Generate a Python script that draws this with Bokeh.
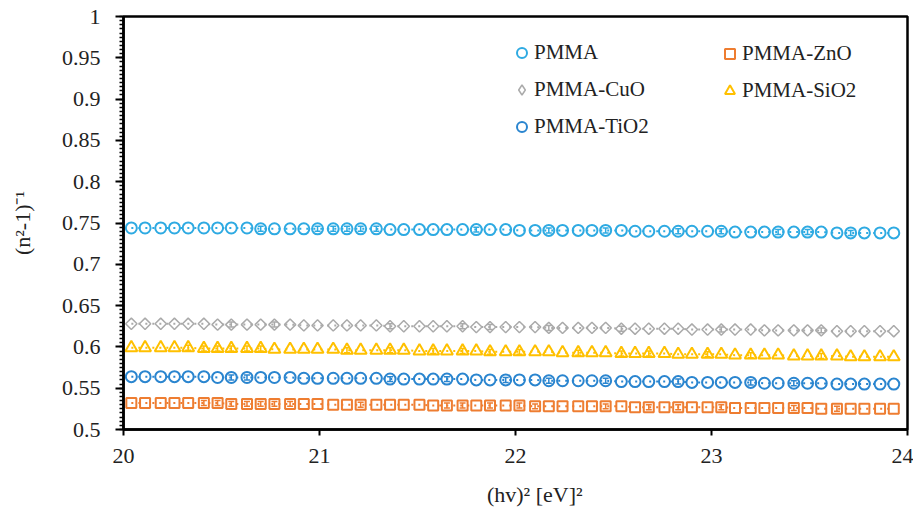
from bokeh.plotting import figure
from bokeh.models import (ColumnDataSource, Legend, LegendItem, FixedTicker,
                          SingleIntervalTicker, CustomJSTickFormatter, Range1d,
                          Whisker, TeeHead)
from bokeh.embed import file_html
from bokeh.resources import INLINE

# ---------------- data ----------------
x_vals = [20.04, 20.11, 20.19, 20.26, 20.33, 20.41, 20.48, 20.55, 20.63, 20.70,
          20.77, 20.85, 20.92, 20.99, 21.07, 21.14, 21.21, 21.29, 21.36, 21.43,
          21.51, 21.58, 21.65, 21.73, 21.80, 21.87, 21.95, 22.02, 22.10, 22.17,
          22.24, 22.32, 22.39, 22.46, 22.54, 22.61, 22.68, 22.76, 22.83, 22.90,
          22.98, 23.05, 23.12, 23.20, 23.27, 23.34, 23.42, 23.49, 23.56, 23.64,
          23.71, 23.78, 23.86, 23.93]

pmma = [0.744, 0.744, 0.744, 0.744, 0.744, 0.744, 0.744, 0.744, 0.744, 0.743,
        0.743, 0.743, 0.743, 0.743, 0.743, 0.743, 0.743, 0.743, 0.742, 0.742,
        0.742, 0.742, 0.742, 0.742, 0.742, 0.742, 0.742, 0.741, 0.741, 0.741,
        0.741, 0.741, 0.741, 0.741, 0.741, 0.740, 0.740, 0.740, 0.740, 0.740,
        0.740, 0.740, 0.739, 0.739, 0.739, 0.739, 0.739, 0.739, 0.739, 0.738,
        0.738, 0.738, 0.738, 0.738]

pmma_zno = [0.532, 0.532, 0.532, 0.532, 0.532, 0.532, 0.532, 0.531, 0.531, 0.531,
            0.531, 0.531, 0.531, 0.531, 0.530, 0.530, 0.530, 0.530, 0.530, 0.530,
            0.530, 0.529, 0.529, 0.529, 0.529, 0.529, 0.529, 0.529, 0.528, 0.528,
            0.528, 0.528, 0.528, 0.528, 0.528, 0.527, 0.527, 0.527, 0.527, 0.527,
            0.527, 0.527, 0.526, 0.526, 0.526, 0.526, 0.526, 0.526, 0.525, 0.525,
            0.525, 0.525, 0.525, 0.525]

pmma_cuo = [0.628, 0.628, 0.628, 0.628, 0.628, 0.628, 0.627, 0.627, 0.627, 0.627,
            0.627, 0.627, 0.626, 0.626, 0.626, 0.626, 0.626, 0.626, 0.625, 0.625,
            0.625, 0.625, 0.625, 0.625, 0.624, 0.624, 0.624, 0.624, 0.624, 0.623,
            0.623, 0.623, 0.623, 0.623, 0.622, 0.622, 0.622, 0.622, 0.622, 0.621,
            0.621, 0.621, 0.621, 0.621, 0.620, 0.620, 0.620, 0.620, 0.620, 0.619,
            0.619, 0.619, 0.619, 0.619]

pmma_sio2 = [0.599, 0.599, 0.599, 0.599, 0.599, 0.598, 0.598, 0.598, 0.598, 0.598,
             0.597, 0.597, 0.597, 0.597, 0.597, 0.596, 0.596, 0.596, 0.596, 0.596,
             0.595, 0.595, 0.595, 0.595, 0.595, 0.594, 0.594, 0.594, 0.594, 0.594,
             0.593, 0.593, 0.593, 0.593, 0.592, 0.592, 0.592, 0.592, 0.591, 0.591,
             0.591, 0.591, 0.590, 0.590, 0.590, 0.590, 0.589, 0.589, 0.589, 0.589,
             0.588, 0.588, 0.588, 0.588]

pmma_tio2 = [0.564, 0.564, 0.564, 0.564, 0.564, 0.564, 0.563, 0.563, 0.563, 0.563,
             0.563, 0.563, 0.562, 0.562, 0.562, 0.562, 0.562, 0.562, 0.561, 0.561,
             0.561, 0.561, 0.561, 0.561, 0.560, 0.560, 0.560, 0.560, 0.560, 0.559,
             0.559, 0.559, 0.559, 0.559, 0.558, 0.558, 0.558, 0.558, 0.558, 0.557,
             0.557, 0.557, 0.557, 0.557, 0.556, 0.556, 0.556, 0.556, 0.556, 0.555,
             0.555, 0.555, 0.555, 0.555]

# error-bar half heights (0 = no visible bar)
err_pmma = [0, 0, 0, 0, 0, 0, 0, 0, 0, 0.003,
            0, 0, 0, 0.003, 0.003, 0.003, 0.003, 0.003, 0, 0,
            0, 0, 0, 0, 0.003, 0, 0, 0, 0, 0.003,
            0, 0, 0, 0.003, 0, 0, 0, 0, 0.003, 0,
            0, 0.003, 0, 0, 0, 0.003, 0, 0.003, 0, 0,
            0.003, 0, 0, 0]
err_zno = [0, 0, 0, 0, 0, 0.003, 0.003, 0.003, 0.003, 0.003,
           0.003, 0.003, 0, 0, 0, 0, 0.003, 0, 0, 0,
           0, 0, 0.003, 0.003, 0, 0.003, 0, 0.003, 0.003, 0,
           0, 0, 0, 0.003, 0, 0, 0.003, 0, 0.003, 0,
           0, 0.003, 0, 0, 0, 0, 0.003, 0, 0, 0.003,
           0, 0, 0, 0]
err_cuo = [0, 0, 0, 0, 0, 0, 0, 0.003, 0, 0,
           0.003, 0, 0, 0, 0, 0, 0, 0, 0.003, 0,
           0, 0, 0, 0.003, 0, 0.003, 0, 0, 0, 0.003,
           0, 0, 0, 0, 0.003, 0, 0, 0, 0, 0,
           0, 0.003, 0, 0, 0, 0, 0, 0, 0.003, 0,
           0, 0, 0, 0]
err_sio2 = [0, 0, 0, 0, 0.003, 0.003, 0.003, 0.003, 0.003, 0.003,
            0, 0, 0, 0, 0, 0.003, 0, 0, 0.003, 0,
            0, 0.003, 0, 0.003, 0, 0.003, 0, 0.003, 0, 0,
            0, 0.003, 0, 0, 0.003, 0, 0.003, 0, 0, 0,
            0.003, 0, 0, 0.003, 0, 0, 0, 0, 0.003, 0,
            0, 0, 0, 0]
err_tio2 = [0, 0, 0, 0, 0, 0, 0, 0.003, 0.003, 0,
            0, 0, 0, 0, 0, 0, 0, 0, 0.003, 0,
            0, 0, 0.003, 0, 0, 0, 0.003, 0, 0, 0.003,
            0, 0, 0, 0.003, 0, 0, 0, 0, 0.003, 0,
            0, 0, 0, 0.003, 0, 0, 0.003, 0, 0, 0,
            0, 0, 0, 0]

series_names = ["PMMA", "PMMA-ZnO", "PMMA-CuO", "PMMA-SiO2", "PMMA-TiO2"]
x_ticks = [20, 21, 22, 23, 24]

FONT = "Liberation Serif"
TICK_SIZE = "22px"
LEG_SIZE = "21px"

p = figure(width=913, height=517, output_backend="svg", toolbar_location=None,
           x_range=Range1d(20, 24), y_range=Range1d(0.5, 1.0),
           min_border_left=123, min_border_right=6, min_border_top=16,
           min_border_bottom=88)
p.background_fill_color = "white"
p.border_fill_color = "white"
p.outline_line_color = "black"
p.outline_line_width = 2.5
p.xgrid.visible = False
p.ygrid.visible = False

styles = [
    # values, errs, color, plot marker, size, angle, line width, legend marker
    (pmma, err_pmma, "#2eaae2", "circle", 11, 0.0, 2.0, "circle"),
    (pmma_zno, err_zno, "#ee7d31", "square", 10, 0.0, 2.0, "square"),
    (pmma_cuo, err_cuo, "#aaaaaa", "square", 8, 0.785398, 1.5, "diamond"),
    (pmma_sio2, err_sio2, "#ffc000", "triangle", 12, 0.0, 2.0, "triangle"),
    (pmma_tio2, err_tio2, "#2a85cf", "circle", 11, 0.0, 2.0, "circle"),
]

legend_glyphs = {}
for name, (vals, errs, col, mk, sz, ang, lw, lmk) in zip(series_names, styles):
    src = ColumnDataSource(dict(x=x_vals, y=vals))
    p.line("x", "y", source=src, line_color=col, line_width=2, line_dash="2 5")
    ex = [xv for xv, e in zip(x_vals, errs) if e > 0]
    lo = [v - e for v, e in zip(vals, errs) if e > 0]
    hi = [v + e for v, e in zip(vals, errs) if e > 0]
    esrc = ColumnDataSource(dict(base=ex, lower=lo, upper=hi))
    w = Whisker(source=esrc, base="base", lower="lower", upper="upper",
                line_color=col, line_width=1.5,
                upper_head=TeeHead(size=6, line_color=col, line_width=1.5),
                lower_head=TeeHead(size=6, line_color=col, line_width=1.5))
    p.add_layout(w)
    r = p.scatter("x", "y", source=src, marker=mk, size=sz, angle=ang,
                  line_color=col, line_width=lw, fill_color="white", fill_alpha=0.0)
    if lmk == mk:
        legend_glyphs[name] = r
    else:
        # legend-only glyph (kept outside the visible range)
        legend_glyphs[name] = p.scatter(x=[x_vals[0]], y=[0.0], marker=lmk, size=sz,
                                        line_color=col, line_width=lw,
                                        fill_color="white", fill_alpha=0.0)

# legends (two columns)
def make_legend(names, loc):
    lg = Legend(items=[LegendItem(label=n, renderers=[legend_glyphs[n]]) for n in names],
                location=loc, orientation="vertical")
    lg.label_text_font = FONT
    lg.label_text_font_size = LEG_SIZE
    lg.label_text_color = "#222222"
    lg.label_height = 25
    lg.glyph_width = 25
    lg.glyph_height = 25
    lg.label_standoff = 0
    lg.spacing = 12
    lg.padding = 0
    lg.margin = 0
    lg.border_line_color = None
    lg.background_fill_alpha = 0.0
    return lg

p.add_layout(make_legend(["PMMA", "PMMA-CuO", "PMMA-TiO2"], (386, 290)), "center")
p.add_layout(make_legend(["PMMA-ZnO", "PMMA-SiO2"], (594, 326)), "center")

# axes
xa = p.xaxis[0]
xa.ticker = FixedTicker(ticks=x_ticks)
xa.axis_label = "\u00a0" * 7 + "(hv)\u00b2 [eV]\u00b2"
ya = p.yaxis[0]
ya.ticker = SingleIntervalTicker(interval=0.05, num_minor_ticks=10)
ya.formatter = CustomJSTickFormatter(code="return (Math.round(tick*100)/100).toString();")
ya.axis_label = "(n\u00b2-1)\u207b\u00b9"

for ax in (xa, ya):
    ax.axis_line_color = "black"
    ax.axis_line_width = 2.5
    ax.major_tick_line_color = "black"
    ax.major_tick_line_width = 2
    ax.major_tick_in = 0
    ax.minor_tick_in = 0
    ax.major_label_text_font = FONT
    ax.major_label_text_font_size = TICK_SIZE
    ax.major_label_text_color = "#222222"
    ax.axis_label_text_font = FONT
    ax.axis_label_text_font_size = TICK_SIZE
    ax.axis_label_text_font_style = "normal"
    ax.axis_label_text_color = "#222222"

xa.major_tick_out = 6
xa.minor_tick_line_color = None
xa.major_label_standoff = 13
xa.axis_label_standoff = 16

ya.major_tick_out = 8
ya.minor_tick_out = 4
ya.minor_tick_line_color = "black"
ya.minor_tick_line_width = 1.5
ya.major_label_standoff = 15
ya.axis_label_standoff = 24

open("out.html", "w").write(file_html(p, INLINE))
